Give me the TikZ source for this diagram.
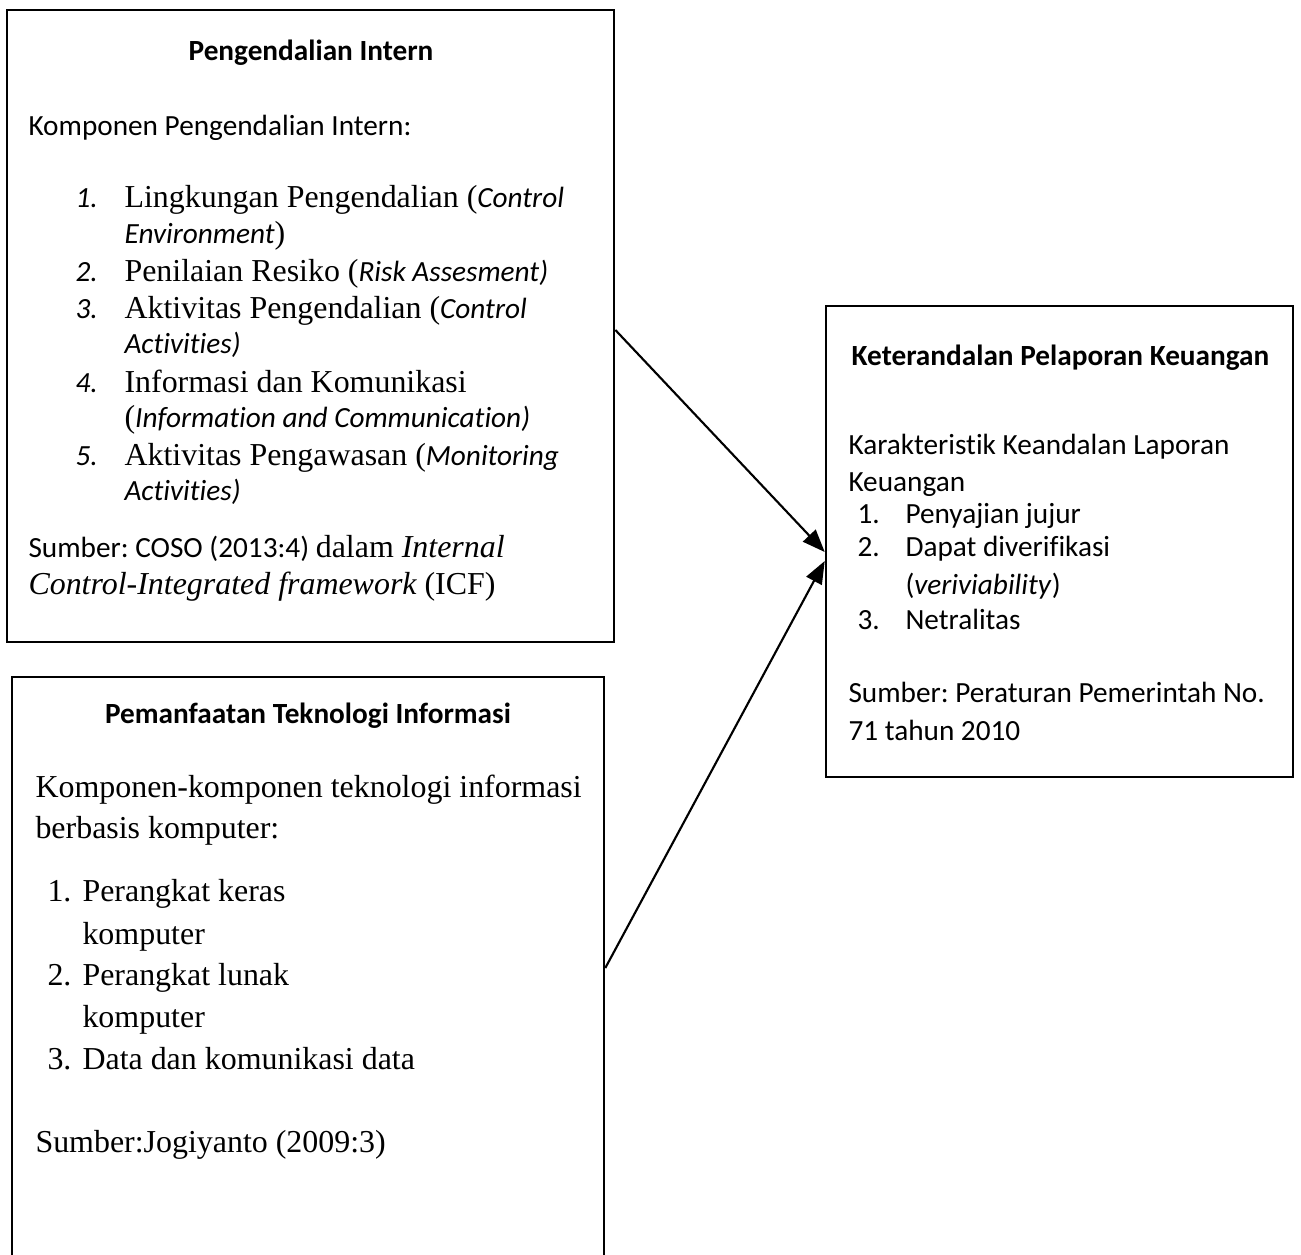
\documentclass[tikz,border=0pt]{standalone}
\usepackage{fontspec}
\setmainfont{Liberation Serif}
\newfontfamily\calf[Ligatures=NoCommon]{Carlito}
\usetikzlibrary{arrows.meta}
\frenchspacing
\begin{document}
\begin{tikzpicture}[x=0.3759pt, y=-0.3759pt,
  box/.style={draw, line width=1pt, rectangle, inner sep=0pt},
  ctx/.style={anchor=base west, inner sep=0pt, font=\fontsize{11}{13}\selectfont\calf},
  ctxb/.style={anchor=base, inner sep=0pt, font=\fontsize{11}{13}\selectfont\calf\bfseries},
  ttx/.style={anchor=base west, inner sep=0pt, font=\fontsize{12}{14}\selectfont\rmfamily},
  conn/.style={line width=0.8pt, -{Triangle[length=8.5pt,width=6.5pt]}}]
\clip (0,0) rectangle (1301,1254);
\fill[white] (0,0) rectangle (1301,1254);
% boxes
\node[box, minimum width=228.2pt, minimum height=237.6pt] (b1) at (310.5,326) {};
\node[box, minimum width=222.5pt, minimum height=236pt] (b2) at (308,991) {};
\node[box, minimum width=175.5pt, minimum height=177.1pt] (b3) at (1059.5,541.5) {};
% box 1 text
\node[ctxb] (h1) at (311,60) {Pengendalian Intern};
\node[ctx] (a0) at (28,135) {Komponen Pengendalian Intern:};
\node[ctx] (n1) at (75,207) {\itshape 1.};
\node[ttx] (a1) at (124,207) {Lingkungan Pengendalian ({\calf\fontsize{11}{13}\selectfont\itshape Control}};
\node[ttx] (a1b) at (124,243) {{\calf\fontsize{11}{13}\selectfont\itshape Environment})};
\node[ctx] (n2) at (75,281) {\itshape 2.};
\node[ttx] (a2) at (124,281) {Penilaian Resiko ({\calf\fontsize{11}{13}\selectfont\itshape Risk Assesment)}};
\node[ctx] (n3) at (75,318) {\itshape 3.};
\node[ttx] (a3) at (124,318) {Aktivitas Pengendalian ({\calf\fontsize{11}{13}\selectfont\itshape Control}};
\node[ctx] (a3b) at (124,353) {\itshape Activities)};
\node[ctx] (n4) at (75,392) {\itshape 4.};
\node[ttx] (a4) at (124,392) {Informasi dan Komunikasi};
\node[ttx] (a4b) at (124,427) {({\calf\fontsize{11}{13}\selectfont\itshape Information and Communication)}};
\node[ctx] (n5) at (75,465) {\itshape 5.};
\node[ttx] (a5) at (124,465) {Aktivitas Pengawasan ({\calf\fontsize{11}{13}\selectfont\itshape Monitoring}};
\node[ctx] (a5b) at (124,500) {\itshape Activities)};
\node[ctx] (s1) at (28,557) {Sumber: COSO (2013:4) {\rmfamily\fontsize{12}{14}\selectfont dalam \itshape Internal}};
\node[ttx] (s1b) at (28,594) {\itshape Control-Integrated framework \upshape(ICF)};
% box 2 text
\node[ctxb] (h2) at (308,723) {Pemanfaatan Teknologi Informasi};
\node[ttx] (c0) at (35,797) {Komponen-komponen teknologi informasi};
\node[ttx] (c0b) at (35,838) {berbasis komputer:};
\node[ttx] (m1) at (47,901) {1.};
\node[ttx] (c1) at (82,901) {Perangkat keras};
\node[ttx] (c1b) at (82,944) {komputer};
\node[ttx] (m2) at (47,985) {2.};
\node[ttx] (c2) at (82,985) {Perangkat lunak};
\node[ttx] (c2b) at (82,1027) {komputer};
\node[ttx] (m3) at (47,1069) {3.};
\node[ttx] (c3) at (82,1069) {Data dan komunikasi data};
\node[ttx] (s2) at (35,1152) {Sumber:Jogiyanto (2009:3)};
% box 3 text
\node[ctxb] (h3) at (1060.5,365) {Keterandalan Pelaporan Keuangan};
\node[ctx] (d0) at (848,454) {Karakteristik Keandalan Laporan};
\node[ctx] (d0b) at (848,491) {Keuangan};
\node[ctx] (k1) at (857,523) {1.};
\node[ctx] (d1) at (905,523) {Penyajian jujur};
\node[ctx] (k2) at (857,556) {2.};
\node[ctx] (d2) at (905,556) {Dapat diverifikasi};
\node[ctx] (d2b) at (905,594) {(\textit{veriviability})};
\node[ctx] (k3) at (857,629) {3.};
\node[ctx] (d3) at (905,629) {Netralitas};
\node[ctx] (s3) at (848,702) {Sumber: Peraturan Pemerintah No.};
\node[ctx] (s3b) at (848,740) {71 tahun 2010};
% connectors
\coordinate (p1) at (b1.east |- 0,330);
\coordinate (q1) at (b3.west |- 0,552);
\coordinate (p2) at (b2.east |- 0,968);
\coordinate (q2) at (b3.west |- 0,561);
\draw[conn] (p1) -- (q1);
\draw[conn] (p2) -- (q2);
\end{tikzpicture}
\end{document}
